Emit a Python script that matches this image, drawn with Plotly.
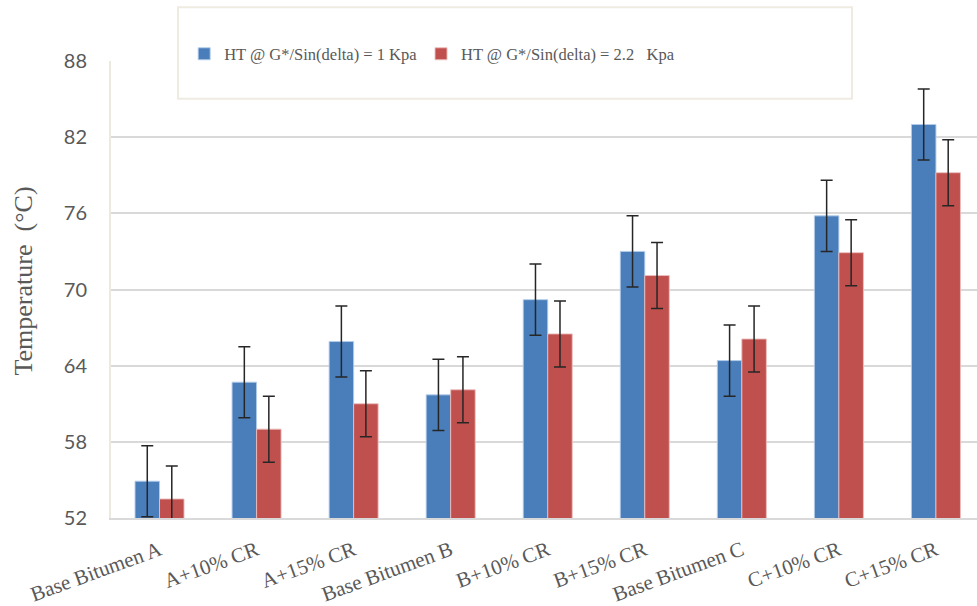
import plotly.graph_objects as go

# High-temperature grade results for each binder
categories = [
    "Base Bitumen A", "A+10% CR", "A+15% CR",
    "Base Bitumen B", "B+10% CR", "B+15% CR",
    "Base Bitumen C", "C+10% CR", "C+15% CR",
]
ht_1kpa = [54.9, 62.7, 65.9, 61.7, 69.2, 73.0, 64.4, 75.8, 83.0]
ht_2_2kpa = [53.5, 59.0, 61.0, 62.1, 66.5, 71.1, 66.1, 72.9, 79.2]
err_1kpa = [2.8] * len(categories)
err_2_2kpa = [2.6] * len(categories)

y_ticks = [52, 58, 64, 70, 76, 82, 88]

NBSP = "\u00a0"
name_1 = "HT @ G*/Sin(delta) = 1 Kpa"
name_2 = "HT @ G*/Sin(delta) = 2.2" + NBSP * 3 + "Kpa"
y_title = "Temperature" + NBSP * 2 + "(°C)"

BLUE = "#4a7ebb"
RED = "#c0504d"
GRID = "#d9d9d9"
TEXT = "#595959"
SERIF = "Liberation Serif, Times New Roman, serif"

err_style = dict(type="data", thickness=1.5, width=6, color="#262626")

fig = go.Figure()
fig.add_trace(go.Bar(
    x=categories, y=ht_1kpa, name=name_1, legend="legend",
    marker=dict(color=BLUE, line=dict(color="rgba(180,205,235,0.9)", width=1)),
    error_y=dict(array=err_1kpa, **err_style),
))
fig.add_trace(go.Bar(
    x=categories, y=ht_2_2kpa, name=name_2, legend="legend2",
    marker=dict(color=RED, line=dict(color="rgba(235,190,190,0.9)", width=1)),
    error_y=dict(array=err_2_2kpa, **err_style),
))

# legend frame
fig.add_shape(
    type="rect", xref="paper", yref="paper",
    x0=0.0774, x1=0.8557, y0=0.9174, y1=1.1174,
    fillcolor="white", line=dict(color="#eeece1", width=2), layer="above",
)

# vertical axis title
fig.add_annotation(
    text=y_title, textangle=-90, showarrow=False,
    xref="paper", yref="paper", x=-0.1005, y=0.5196,
    xanchor="center", yanchor="middle",
    font=dict(family=SERIF, size=26, color=TEXT),
)

legend_common = dict(
    orientation="h", xanchor="left", y=1.0152, yanchor="middle",
    bgcolor="rgba(0,0,0,0)", borderwidth=0,
    font=dict(family=SERIF, size=16.5, color=TEXT),
)

fig.update_layout(
    width=977, height=606,
    margin=dict(l=111, r=0, t=61, b=85),
    paper_bgcolor="white", plot_bgcolor="white",
    barmode="group", bargap=0.495, bargroupgap=0,
    showlegend=True,
    legend=dict(x=0.0845, **legend_common),
    legend2=dict(x=0.358, **legend_common),
    xaxis=dict(
        range=[-0.5, 8.423],
        tickangle=-20,
        tickfont=dict(family=SERIF, size=21, color=TEXT),
        showline=True, linecolor=GRID, linewidth=2,
        showgrid=False, ticks="", ticklabelstandoff=10,
    ),
    yaxis=dict(
        range=[52, 88], tickvals=y_ticks,
        tickfont=dict(family="Lato", size=20, color=TEXT),
        showgrid=True, gridcolor=GRID, gridwidth=1.5,
        showline=True, linecolor="#eceadf", linewidth=2,
        zeroline=False, ticks="", ticklabelstandoff=18,
    ),
)

fig.write_html("out.html")
